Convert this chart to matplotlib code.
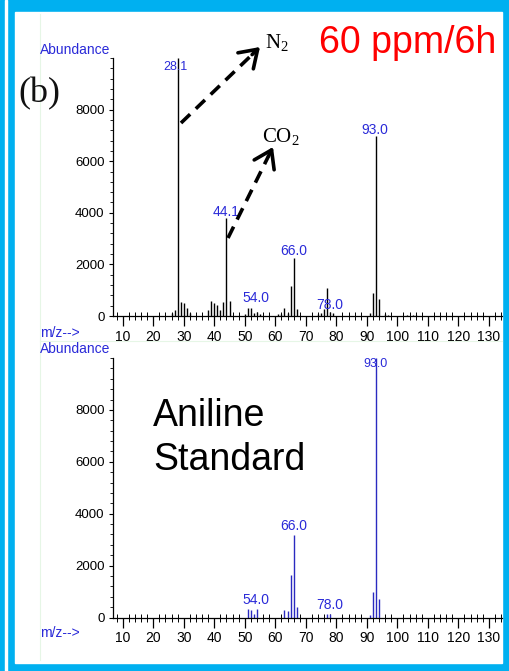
import matplotlib
matplotlib.use("Agg")
import matplotlib.pyplot as plt
from matplotlib.ticker import MultipleLocator
from matplotlib.patches import Rectangle, FancyArrowPatch
from matplotlib.lines import Line2D

plt.rcParams['font.family'] = ['Liberation Sans', 'DejaVu Sans']
plt.rcParams['mathtext.fontset'] = 'custom'
plt.rcParams['mathtext.rm'] = 'Liberation Serif'

# sample spectrum, 60 ppm / 6 h
sample_mz = [26, 27, 28, 29, 30, 31, 32, 38, 39, 40, 41, 42, 43, 44, 45,
             50, 51, 52, 53, 54, 55, 61, 62, 63, 64, 65, 66, 67,
             74, 75, 76, 77, 78, 79, 91, 92, 93, 94, 96, 97, 103, 105, 106]
sample_ab = [110, 220, 10000, 560, 520, 300, 130, 230, 600, 500, 420, 220, 560, 3790, 600,
             60, 300, 300, 100, 170, 80, 60, 80, 300, 120, 1170, 2230, 270,
             60, 110, 270, 1070, 150, 100, 100, 900, 6960, 660, 60, 40, 50, 50, 50]
sample_labels = ["28.1", "44.1", "54.0", "66.0", "78.0", "93.0"]
sample_label_x = [27.3, 44.0, 53.6, 66.0, 78.0, 92.7]
sample_label_y = [9670, 4035, 700, 2515, 440, 7195]

# aniline standard
std_mz = [51, 52, 53, 54, 63, 64, 65, 66, 67, 77, 78, 91, 92, 93, 94]
std_ab = [320, 300, 140, 320, 300, 260, 1650, 3180, 400, 150, 150, 110, 990, 10000, 700]
std_labels = ["93.0", "66.0", "54.0", "78.0"]
std_label_x = [92.7, 66.0, 53.6, 78.0]
std_label_y = [9770, 3525, 680, 465]

yticks = [0, 2000, 4000, 6000, 8000]
xticks = list(range(10, 140, 10))

W, H = 510, 671
blue = '#2a2ad8'


def fx(x):
    return x / W


def fy(y):
    return 1 - y / H


fig = plt.figure(figsize=(5.1, 6.71), dpi=100)

# cyan frame
fig.patches.append(Rectangle((0, 0), 1, 1, transform=fig.transFigure,
                             color='#00b0f0', zorder=-10))
fig.patches.append(Rectangle((fx(5), 0), fx(2), 1, transform=fig.transFigure,
                             color='white', zorder=-9))
fig.patches.append(Rectangle((fx(15), fy(663)), fx(487), (663 - 12) / H,
                             transform=fig.transFigure, color='white', zorder=-9))
fig.lines.append(Line2D([fx(40), fx(40)], [fy(660), fy(14)], transform=fig.transFigure,
                        color='#e6f6e6', lw=0.8))
fig.lines.append(Line2D([fx(40), fx(502)], [fy(341), fy(341)], transform=fig.transFigure,
                        color='#e6f6e6', lw=0.8))


def spectrum_axes(rect, mz, ab, color, labels, lx, ly, label_sizes):
    ax = fig.add_axes(rect)
    ax.patch.set_alpha(0)
    ax.vlines(mz, 0, ab, color=color, lw=1.0)
    ax.set_xlim(6.8, 134.3)
    ax.set_ylim(0, 10000)
    for s in ['top', 'right']:
        ax.spines[s].set_visible(False)
    ax.spines['left'].set_linewidth(0.9)
    ax.spines['bottom'].set_linewidth(0.9)
    ax.set_yticks(yticks)
    ax.yaxis.set_minor_locator(MultipleLocator(400))
    ax.set_xticks(xticks)
    ax.xaxis.set_minor_locator(MultipleLocator(2))
    ax.tick_params(axis='y', which='major', length=3, width=0.8, pad=3, labelsize=9.5)
    ax.tick_params(axis='y', which='minor', length=2, width=0.6)
    ax.tick_params(axis='x', which='major', direction='out', length=7, width=0.9,
                   pad=3, labelsize=10)
    ax.tick_params(axis='x', which='minor', direction='inout', length=6, width=0.7)
    for t, x, y, s in zip(labels, lx, ly, label_sizes):
        ax.text(x, y, t, color=blue, fontsize=s, ha='center', va='center')
    return ax


ax1 = spectrum_axes([fx(113), fy(316), fx(389), 258 / H], sample_mz, sample_ab, 'black',
                    sample_labels, sample_label_x, sample_label_y, [9, 10, 10, 10, 10, 10])
ax2 = spectrum_axes([fx(113), fy(617.5), fx(389), 259.5 / H], std_mz, std_ab, '#2a2ac0',
                    std_labels, std_label_x, std_label_y, [9, 10, 10, 10])

# axis captions
for y in [50, 349]:
    fig.text(fx(40), fy(y), "Abundance", color=blue, fontsize=10, va='center', ha='left')
for y in [333, 633]:
    fig.text(fx(40), fy(y), "m/z-->", color=blue, fontsize=10, va='center', ha='left')

fig.text(fx(408), fy(53), "60 ppm/6h", color='#ff0000', fontsize=27, ha='center', va='baseline')
fig.text(fx(153), fy(426), "Aniline", color='black', fontsize=27, ha='left', va='baseline')
fig.text(fx(153), fy(470), "Standard", color='black', fontsize=27, ha='left', va='baseline')
fig.text(fx(18), fy(102), "(b)", family='Liberation Serif', fontsize=26, ha='left',
         va='baseline', color='#111111')
fig.text(fx(265), fy(48), r'$\mathrm{N_2}$', fontsize=15, ha='left', va='baseline')
fig.text(fx(262), fy(141.7), r'$\mathrm{CO_2}$', fontsize=15, ha='left', va='baseline')

# dashed arrows
for (x0, y0), (x1, y1) in [((181, 123), (260, 47)), ((228, 238), (273, 147))]:
    xm = x1 - (x1 - x0) * 0.1
    ym = y1 - (y1 - y0) * 0.1
    fig.lines.append(Line2D([fx(x0), fx(xm)], [fy(y0), fy(ym)], transform=fig.transFigure,
                            color='black', lw=2.6, ls=(0, (3.5, 2.2))))
    fig.add_artist(FancyArrowPatch(
        (fx(xm), fy(ym)), (fx(x1), fy(y1)), transform=fig.transFigure,
        arrowstyle='->,head_length=0.6,head_width=0.4', mutation_scale=20,
        lw=2.6, color='black', shrinkA=0, shrinkB=0))

fig.savefig("out.png", dpi=100)
